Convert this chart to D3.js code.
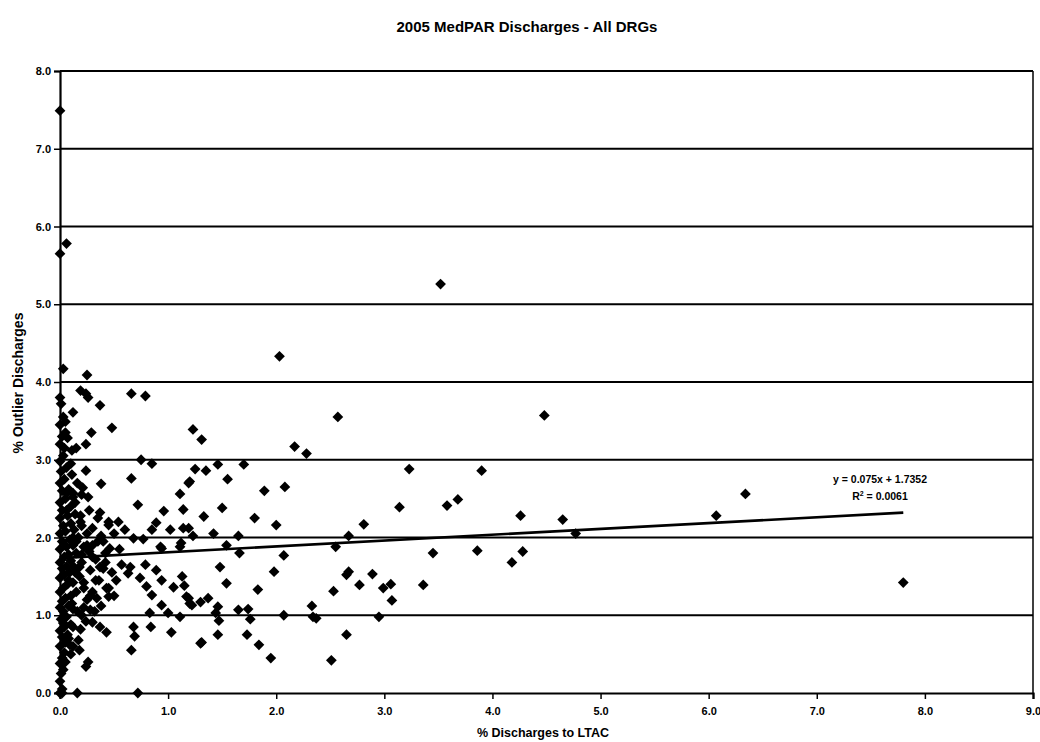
<!DOCTYPE html>
<html>
<head>
<meta charset="utf-8">
<script src="https://cdn.jsdelivr.net/npm/d3@7"></script>
<style>
  html, body { margin: 0; padding: 0; background: #fff; }
  svg { display: block; }
  text { font-family: "Liberation Sans", Arial, sans-serif; font-weight: bold; fill: #000; }
</style>
</head>
<body>
<svg id="chart" width="1040" height="742"></svg>
<script>
// Chart text
const chartTitle = "2005 MedPAR Discharges - All DRGs";
const xTitle = "% Discharges to LTAC";
const yTitle = "% Outlier Discharges";

// Axis ticks
const xTicks = [0, 1, 2, 3, 4, 5, 6, 7, 8, 9];
const yTicks = [0, 1, 2, 3, 4, 5, 6, 7, 8];

// Linear trend (least squares fit shown on the chart)
const trendSlope = 0.075;
const trendIntercept = 1.7352;
const trendR2 = 0.0061;
const trendRange = [0, 7.8];

// One entry per DRG: % discharges to LTAC
const ltacPct = [
  // high outliers
  0.00, 0.00, 0.06, 3.52, 2.03, 0.03,
  // dense column near zero
  0.00, 0.02, 0.00, 0.01, 0.03, 0.00, 0.02, 0.04, 0.00, 0.05, 0.02, 0.08, 0.00, 0.04, 0.10, 0.01,
  0.06, 0.03, 0.00, 0.08, 0.12, 0.02, 0.05, 0.10, 0.00, 0.15, 0.03, 0.07, 0.12, 0.00, 0.04, 0.09,
  0.18, 0.02, 0.06, 0.13, 0.00, 0.10, 0.20, 0.04, 0.08, 0.15, 0.00, 0.06, 0.12, 0.22, 0.02, 0.09,
  0.17, 0.00, 0.05, 0.13, 0.25, 0.03, 0.10, 0.19, 0.00, 0.07, 0.14, 0.02, 0.10, 0.00, 0.05, 0.12,
  0.02, 0.08, 0.00, 0.04, 0.01, 0.06, 0.00, 0.03, 0.00, 0.02, 0.05, 0.00, 0.03, 0.01, 0.00,
  0.25, 0.30, 0.22, 0.28, 0.33, 0.27, 0.35, 0.30, 0.38, 0.42, 0.40, 0.36, 0.45, 0.20, 0.24, 0.32,
  0.18, 0.12,
  0.15, 0.20, 0.25, 0.30, 0.18, 0.22, 0.28, 0.33, 0.37, 0.40, 0.45, 0.50, 0.35, 0.27, 0.14, 0.20,
  0.08, 0.11, 0.16, 0.07, 0.12, 0.05, 0.10, 0.30, 0.42, 0.48, 0.55, 0.60, 0.50, 0.38, 0.20, 0.12,
  0.06, 0.16, 0.10, 0.04, 0.22, 0.09, 0.03, 0.14,
  // 0 to 1.2 range
  0.25, 0.19, 0.24, 0.26, 0.66, 0.79, 0.37, 0.12, 0.05, 0.48, 0.29, 0.07, 0.24, 0.15, 0.11, 0.75,
  0.85, 0.11, 0.24, 0.66, 0.38, 0.21, 0.06, 0.12, 0.26, 1.11, 0.72, 0.96, 0.37, 1.14, 0.19, 0.54,
  0.45, 0.89, 1.02, 1.19, 1.14, 0.85, 0.68, 0.77, 0.46, 0.94, 1.11, 0.57, 0.65, 0.79, 0.89, 0.63,
  0.52, 0.74, 0.94, 0.80, 1.05, 1.13, 0.85, 0.94, 0.43, 0.45, 0.34, 0.28, 0.83, 1.00, 1.11, 0.37,
  0.30, 0.43, 0.68, 0.69, 0.84, 1.03, 0.19, 0.17, 0.66, 0.26, 0.24, 0.02, 0.16, 0.72, 1.17, 1.20,
  1.30,
  // 1.2 to 3 range
  1.23, 1.31, 2.17, 2.28, 2.57, 1.25, 1.35, 1.46, 1.70, 1.20, 1.55, 1.89, 2.08, 1.50, 1.33, 1.80,
  2.00, 1.19, 1.23, 1.42, 1.65, 0.93, 1.12, 1.54, 2.67,
  3.23, 3.90, 3.14, 3.58, 3.68, 2.81, 1.66, 2.07, 2.55, 3.45, 3.86, 1.48, 1.98, 2.65, 2.67, 2.89,
  1.54, 1.15, 1.83, 2.77, 2.99, 3.06, 3.36, 2.53, 1.19, 1.22, 1.30, 1.37, 1.46, 1.44, 1.65, 1.74,
  2.33, 3.07, 1.47, 1.76, 2.07, 2.34, 2.37, 2.95, 1.46, 1.73, 1.31, 1.84, 2.65, 1.95, 2.51,
  // right side
  4.48, 4.26, 4.65, 6.07, 6.34, 4.77, 4.28, 4.18, 7.80
];

// Matching % of discharges that are outliers
const outlierPct = [
  7.49, 5.65, 5.78, 5.26, 4.33, 4.17,
  0.00, 0.05, 0.15, 0.25, 0.30, 0.38, 0.45, 0.52, 0.60, 0.65, 0.72, 0.70, 0.80, 0.85, 0.88, 0.95,
  0.98, 1.05, 1.10, 1.12, 1.08, 1.18, 1.22, 1.25, 1.30, 1.30, 1.35, 1.40, 1.42, 1.48, 1.52, 1.55,
  1.50, 1.60, 1.63, 1.62, 1.68, 1.70, 1.68, 1.75, 1.78, 1.80, 1.85, 1.88, 1.90, 1.88, 1.95, 1.97,
  2.00, 2.05, 2.08, 2.10, 2.05, 2.15, 2.18, 2.20, 2.25, 2.28, 2.30, 2.35, 2.40, 2.45, 2.50, 2.52,
  2.60, 2.62, 2.70, 2.75, 2.85, 2.90, 2.98, 3.05, 3.20, 3.30, 3.35, 3.45, 3.55, 3.72, 3.80,
  1.20, 1.30, 1.42, 1.58, 1.72, 1.82, 1.95, 2.12, 2.02, 1.80, 1.60, 1.45, 1.35, 1.00, 0.92, 1.05,
  0.55, 0.60,
  1.95, 2.15, 1.90, 1.75, 1.62, 1.35, 1.25, 1.45, 1.62, 1.95, 2.20, 2.05, 2.25, 2.35, 2.45, 2.55,
  1.45, 1.15, 1.05, 0.75, 0.85, 0.40, 0.50, 1.90, 1.68, 1.55, 1.85, 2.10, 1.25, 1.12, 1.78, 2.00,
  2.35, 2.70, 2.95, 3.15, 1.10, 0.62, 0.90, 1.55,
  4.09, 3.89, 3.85, 3.80, 3.85, 3.82, 3.70, 3.61, 3.49, 3.41, 3.35, 3.28, 3.20, 3.15, 3.12, 3.00,
  2.95, 2.81, 2.86, 2.76, 2.69, 2.64, 2.57, 2.57, 2.52, 2.56, 2.42, 2.34, 2.32, 2.36, 2.28, 2.20,
  2.16, 2.19, 2.10, 2.70, 2.12, 2.10, 1.99, 1.98, 1.86, 1.86, 1.88, 1.65, 1.62, 1.65, 1.58, 1.54,
  1.45, 1.48, 1.45, 1.37, 1.36, 1.50, 1.26, 1.13, 1.35, 1.24, 1.22, 1.07, 1.03, 1.03, 0.98, 0.85,
  0.91, 0.78, 0.85, 0.73, 0.85, 0.78, 0.82, 0.68, 0.55, 0.40, 0.34, 0.00, 0.00, 0.00, 1.24, 1.15,
  0.64,
  3.39, 3.26, 3.17, 3.08, 3.55, 2.88, 2.86, 2.94, 2.94, 2.72, 2.75, 2.60, 2.65, 2.38, 2.27, 2.25,
  2.16, 2.12, 2.02, 2.05, 2.02, 1.88, 1.93, 1.90, 2.02,
  2.88, 2.86, 2.39, 2.41, 2.49, 2.17, 1.80, 1.77, 1.88, 1.80, 1.83, 1.62, 1.56, 1.52, 1.56, 1.53,
  1.41, 1.38, 1.33, 1.39, 1.35, 1.40, 1.39, 1.31, 1.22, 1.13, 1.17, 1.22, 1.11, 1.03, 1.07, 1.08,
  1.12, 1.19, 0.93, 0.95, 1.00, 0.98, 0.96, 0.98, 0.75, 0.75, 0.65, 0.62, 0.75, 0.45, 0.42,
  3.57, 2.28, 2.23, 2.28, 2.56, 2.05, 1.82, 1.68, 1.42
];

const svg = d3.select("#chart");

const x = d3.scaleLinear().domain([0, 9]).range([60, 1033]);
const y = d3.scaleLinear().domain([0, 8]).range([693, 71]);

// Horizontal gridlines
svg.append("g")
  .selectAll("line")
  .data(yTicks.filter(d => d > 0))
  .join("line")
  .attr("x1", x(0)).attr("x2", x(9))
  .attr("y1", d => y(d)).attr("y2", d => y(d))
  .attr("stroke", "#000").attr("stroke-width", 2);

// Right border of the plot area
svg.append("line")
  .attr("x1", x(9)).attr("x2", x(9))
  .attr("y1", y(8)).attr("y2", y(0))
  .attr("stroke", "#000").attr("stroke-width", 1.5);

// Axes
const fmt = d3.format(".1f");
const xAxis = svg.append("g")
  .attr("transform", `translate(0,${y(0)})`)
  .call(d3.axisBottom(x).tickValues(xTicks).tickFormat(fmt).tickSize(6).tickPadding(8));
const yAxis = svg.append("g")
  .attr("transform", `translate(${x(0)},0)`)
  .call(d3.axisLeft(y).tickValues(yTicks).tickFormat(fmt).tickSize(6).tickPadding(3));

[xAxis, yAxis].forEach(g => {
  g.select(".domain").attr("stroke", "#000").attr("stroke-width", 2.2);
  g.selectAll(".tick line").attr("stroke", "#000").attr("stroke-width", 1.5);
  g.selectAll(".tick text")
    .attr("font-family", "'Liberation Sans', Arial, sans-serif")
    .attr("font-weight", "bold")
    .attr("font-size", 11)
    .attr("fill", "#000");
});

// Data points as diamonds
const points = ltacPct.map((v, i) => ({ x: v, y: outlierPct[i] }));
const diamond = d3.symbol(d3.symbolSquare, 58);
svg.append("g")
  .selectAll("path")
  .data(points)
  .join("path")
  .attr("d", diamond)
  .attr("transform", d => `translate(${x(d.x)},${y(d.y)}) rotate(45)`)
  .attr("fill", "#000");

// Trend line
svg.append("line")
  .attr("x1", x(trendRange[0]))
  .attr("y1", y(trendSlope * trendRange[0] + trendIntercept))
  .attr("x2", x(trendRange[1]))
  .attr("y2", y(trendSlope * trendRange[1] + trendIntercept))
  .attr("stroke", "#000").attr("stroke-width", 2.6);

// Trend equation label
const eq = svg.append("text")
  .attr("x", 880).attr("y", 483)
  .attr("text-anchor", "middle")
  .attr("font-size", 10.5);
eq.text(`y = ${trendSlope}x + ${trendIntercept}`);
const r2 = svg.append("text")
  .attr("x", 880).attr("y", 500)
  .attr("text-anchor", "middle")
  .attr("font-size", 10.5);
r2.append("tspan").text("R");
r2.append("tspan").attr("font-size", 7).attr("dy", -4).text("2");
r2.append("tspan").attr("dy", 4).text(` = ${trendR2.toFixed(4)}`);

// Titles
svg.append("text")
  .attr("x", 527).attr("y", 32)
  .attr("text-anchor", "middle")
  .attr("font-size", 15)
  .text(chartTitle);

svg.append("text")
  .attr("x", 543).attr("y", 737)
  .attr("text-anchor", "middle")
  .attr("font-size", 12.5)
  .text(xTitle);

svg.append("text")
  .attr("transform", "translate(23,383) rotate(-90)")
  .attr("text-anchor", "middle")
  .attr("font-size", 14)
  .text(yTitle);
</script>
</body>
</html>
